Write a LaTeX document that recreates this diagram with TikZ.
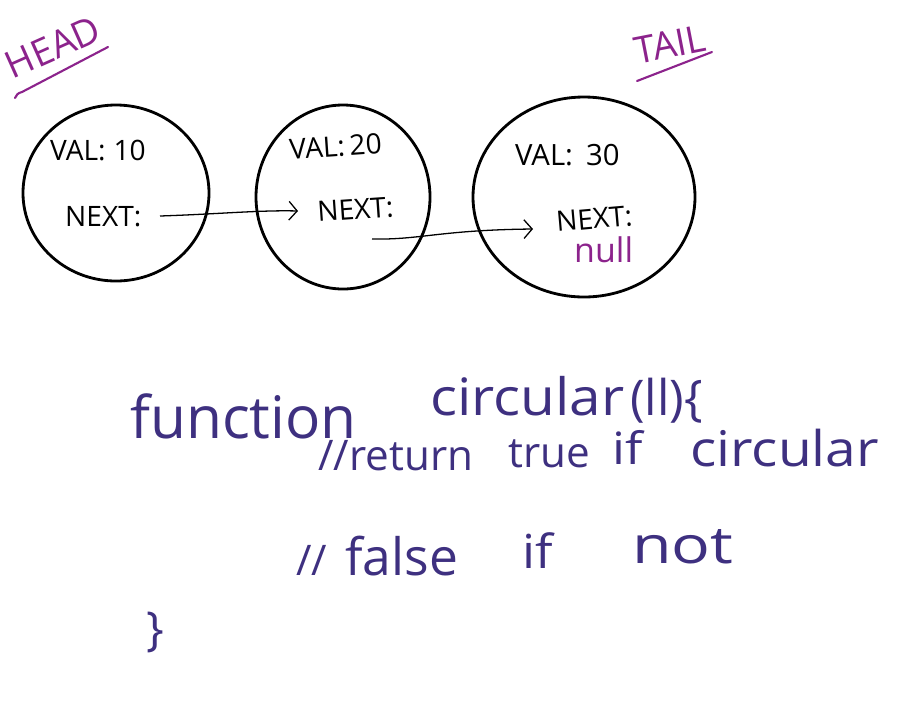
\documentclass[tikz,border=0pt]{standalone}
\usepackage{fontspec}
\setmainfont{Open Sans}
\usetikzlibrary{arrows.meta,shapes.geometric}
\definecolor{mark}{RGB}{140,35,140}
\definecolor{ink}{RGB}{62,48,128}
\begin{document}
\begin{tikzpicture}[x=0.03cm,y=-0.03cm,
  listnode/.style={ellipse,draw=black,line width=2.4pt,inner sep=0pt},
  field/.style={anchor=base west,inner sep=0pt,font=\fontsize{24}{24}\selectfont},
  label/.style={text=mark,inner sep=0pt,font=\fontsize{32}{32}\selectfont},
  mline/.style={draw=mark,line width=1.8pt,line cap=round},
  ptr/.style={draw=black,line width=1.1pt,-{Straight Barb[length=7pt,width=16pt,line width=1.1pt]}},
  code/.style={anchor=base west,inner sep=0pt,text=ink},
]
\useasboundingbox (0,0) rectangle (897,714);
\fill[white] (0,0) rectangle (897,714);

% list nodes
\node[listnode,minimum width=5.58cm,minimum height=5.28cm] (c1) at (116,193) {};
\node[listnode,minimum width=5.22cm,minimum height=5.52cm] (c2) at (343,197) {};
\node[listnode,minimum width=6.66cm,minimum height=6.0cm] (c3) at (584,197) {};

\node[field] (v1) at (50,160) {VAL:\;10};
\node[field] (n1) at (65,226) {NEXT:};
\node[field,rotate=4] (v2) at (290,160) {VAL:\,20};
\node[field,rotate=4] (n2) at (318,222) {NEXT:};
\node[field,font=\fontsize{25}{25}\selectfont] (v3) at (515,165) {VAL:\;\,30};
\node[field,rotate=5] (n3) at (557,232) {NEXT:};
\node[field,text=mark,font=\fontsize{29}{29}\selectfont] (nl) at (574,262) {null};

% pointers
\coordinate (p1s) at (160,216);
\coordinate (p1e) at (298,211);
\coordinate (p2s) at (372,239);
\coordinate (p2e) at (533,229);
\draw[ptr] (p1s) .. controls (220,214) and (260,210) .. (p1e);
\draw[ptr] (p2s) .. controls (420,240) and (440,230) .. (p2e);

% HEAD / TAIL
\node[label,rotate=24] (head) at (53,47) {HEAD};
\draw[mline] (15,98) .. controls (16,95) and (18,93) .. (22,92) -- (108,47);
\node[label,rotate=11] (tail) at (670,44) {TAIL};
\draw[mline] (637,81) -- (712,52);

% code
\node[code,font=\fontsize{50}{50}\selectfont] (fn) at (130,438) {function};
\node[code,font=\fontsize{44}{44}\selectfont] (sig) at (430,415) {\scalebox{1.1}[1]{circular}};
\node[code,font=\fontsize{42}{42}\selectfont] (arg) at (630,415) {(ll)\{};
\node[code,font=\fontsize{36}{36}\selectfont] (w1) at (318,470) {//return};
\node[code,font=\fontsize{36}{36}\selectfont] (w2) at (508,467) {true};
\node[code,font=\fontsize{38}{38}\selectfont] (w3) at (612,464) {\scalebox{1.15}[1]{if}};
\node[code,font=\fontsize{42}{42}\selectfont] (w4) at (690,466) {\scalebox{1.12}[1]{circular}};
\node[code,font=\fontsize{36}{36}\selectfont] (w5) at (296,575) {//};
\node[code,font=\fontsize{44}{44}\selectfont] (w6) at (345,575) {false};
\node[code,font=\fontsize{40}{40}\selectfont] (w7) at (522,568) {\scalebox{1.1}[1]{if}};
\node[code,font=\fontsize{44}{44}\selectfont] (w8) at (632,563) {\scalebox{1.25}[1]{not}};
\node[code,font=\fontsize{40}{40}\selectfont] (br) at (146,645) {\}};
\end{tikzpicture}
\end{document}
